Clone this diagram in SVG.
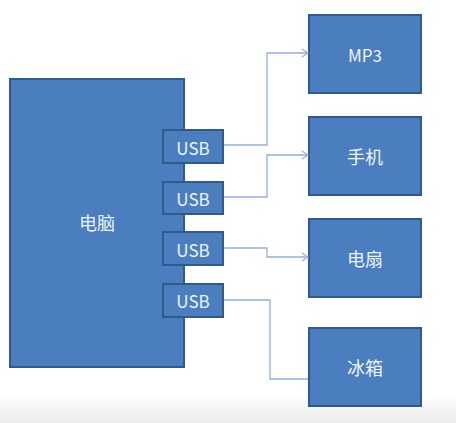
<svg xmlns="http://www.w3.org/2000/svg" width="456" height="423" viewBox="0 0 456 423">
<defs>
<linearGradient id="bg" x1="0" y1="0" x2="0" y2="1">
<stop offset="0" stop-color="#ffffff"/>
<stop offset="1" stop-color="#ebebeb"/>
</linearGradient>
<marker id="arr" markerWidth="10" markerHeight="10" refX="8" refY="5" orient="auto" markerUnits="userSpaceOnUse">
<path d="M2,1 L8,5 L2,9" fill="none" stroke="#93b0d8" stroke-width="1.2"/>
</marker>
<style>
.box{fill:#4a7ebe;stroke:#30598c;stroke-width:2}
.t{font-family:"Noto Sans CJK SC","Liberation Sans",sans-serif;font-size:17px;fill:#eef3fa;text-anchor:middle;dominant-baseline:central}
.z{font-size:18px}
.c{fill:none;stroke:#93b0d8;stroke-width:1.3}
</style>
</defs>
<rect x="0" y="0" width="456" height="423" fill="#ffffff"/>
<rect x="0" y="395" width="456" height="28" fill="url(#bg)"/>
<g id="pc"><rect class="box" x="10" y="79" width="174" height="288"/><text class="t z" x="97" y="222">电脑</text></g>
<g id="usb1"><rect class="box" x="163" y="130" width="60" height="33"/><text class="t" x="193" y="147">USB</text></g>
<g id="usb2"><rect class="box" x="163" y="182" width="60" height="32"/><text class="t" x="193" y="198">USB</text></g>
<g id="usb3"><rect class="box" x="163" y="232" width="60" height="33"/><text class="t" x="193" y="249">USB</text></g>
<g id="usb4"><rect class="box" x="163" y="284" width="60" height="33"/><text class="t" x="193" y="300">USB</text></g>
<g id="mp3"><rect class="box" x="309" y="15" width="112" height="78"/><text class="t" x="365" y="54">MP3</text></g>
<g id="phone"><rect class="box" x="309" y="117" width="112" height="78"/><text class="t z" x="365" y="156">手机</text></g>
<g id="fan"><rect class="box" x="309" y="219" width="112" height="78"/><text class="t z" x="365" y="258">电扇</text></g>
<g id="fridge"><rect class="box" x="309" y="328" width="112" height="78"/><text class="t z" x="365" y="367">冰箱</text></g>
<g id="connectors">
<path class="c" d="M224,145 H267 V53 H308" marker-end="url(#arr)"/>
<path class="c" d="M224,197 H267 V155 H308" marker-end="url(#arr)"/>
<path class="c" d="M224,248 H267 V257 H308" marker-end="url(#arr)"/>
<path class="c" d="M224,300 H270 V379 H308"/>
</g>
</svg>
